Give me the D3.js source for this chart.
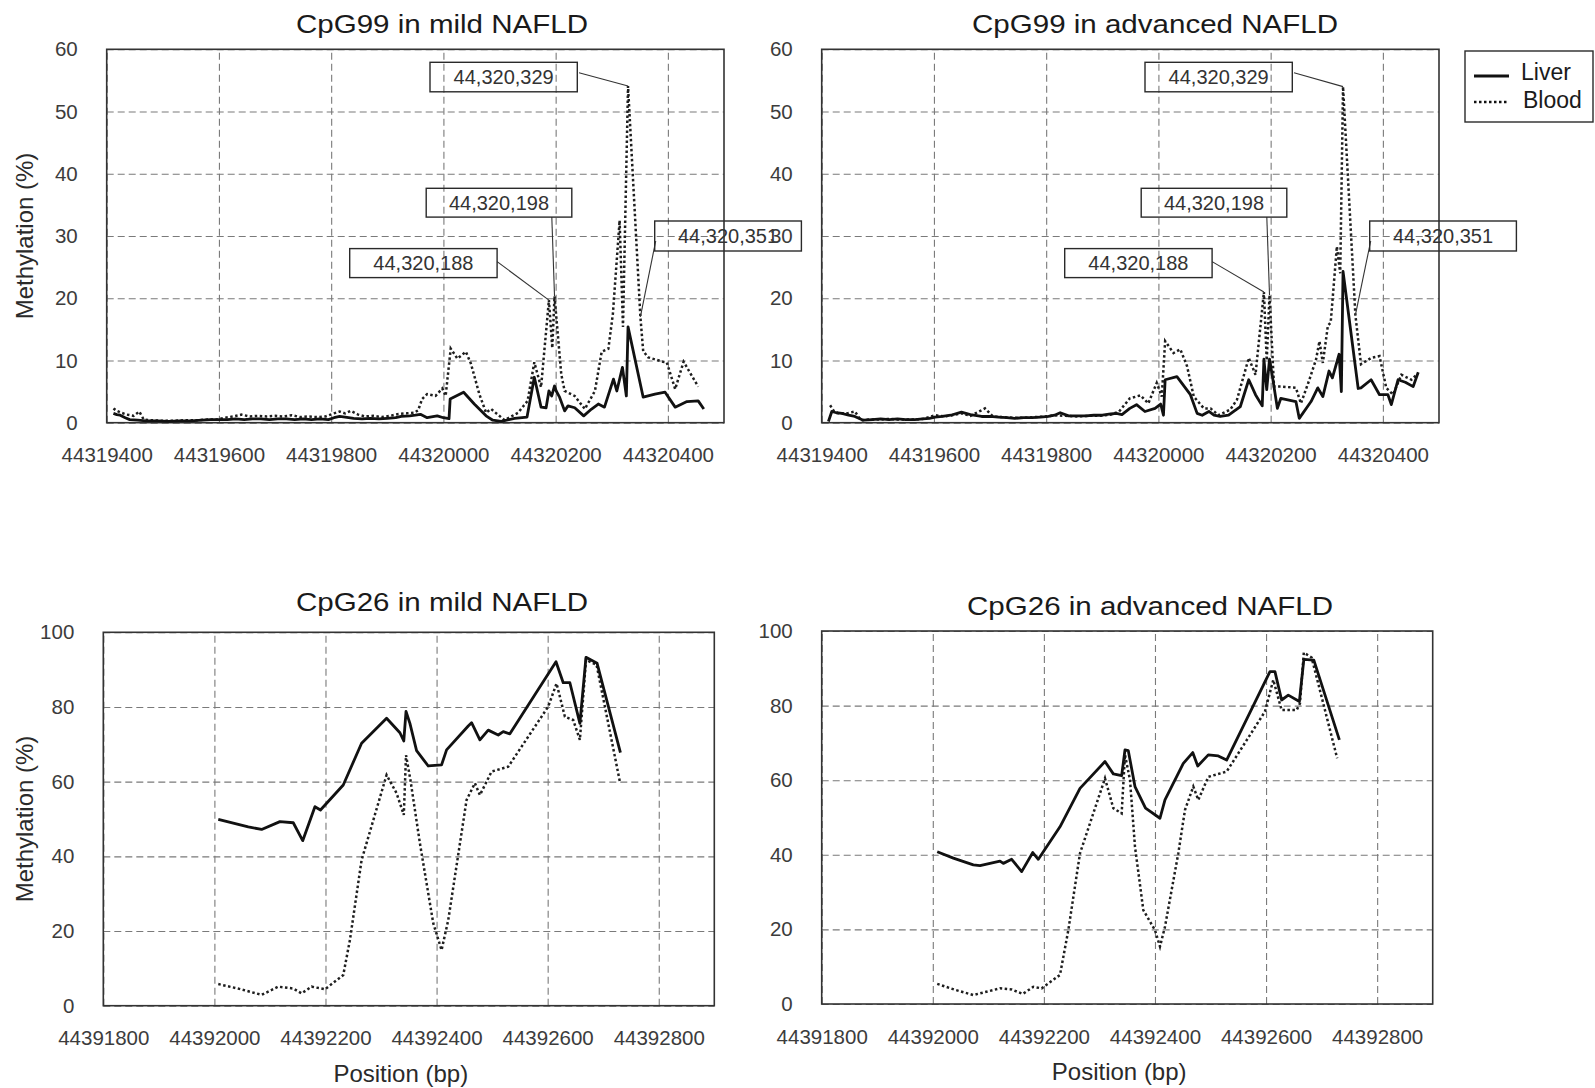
<!DOCTYPE html>
<html>
<head>
<meta charset="utf-8">
<script src="https://cdn.jsdelivr.net/npm/d3@7"></script>
<style>
  html, body { margin: 0; padding: 0; background: #fff; }
  svg { display: block; font-family: "Liberation Sans", Arial, sans-serif; }
</style>
</head>
<body>
<svg id="chart" width="1595" height="1088"></svg>
<script>
// ---------- tick values ----------
const cpg99XTicks = [44319400, 44319600, 44319800, 44320000, 44320200, 44320400];
const cpg99YTicks = [0, 10, 20, 30, 40, 50, 60];
const cpg26XTicks = [44391800, 44392000, 44392200, 44392400, 44392600, 44392800];
const cpg26YTicks = [0, 20, 40, 60, 80, 100];

// highlighted CpG sites in the CpG99 region
const cpg99Sites = [44320329, 44320198, 44320188, 44320351];

// ---------- CpG99, mild NAFLD: [position, methylation %] ----------
const cpg99MildLiver = [
  [44319412,1.5],[44319418,1.3],[44319424,1.2],[44319433,0.8],[44319441,0.5],[44319455,0.4],
  [44319470,0.3],[44319490,0.3],[44319510,0.2],[44319530,0.3],[44319550,0.3],[44319570,0.4],
  [44319585,0.5],[44319600,0.5],[44319615,0.5],[44319630,0.6],[44319645,0.5],[44319660,0.6],
  [44319675,0.6],[44319690,0.5],[44319705,0.6],[44319720,0.6],[44319735,0.5],[44319750,0.6],
  [44319765,0.5],[44319780,0.6],[44319795,0.5],[44319805,0.8],[44319815,1.0],[44319825,0.9],
  [44319840,0.7],[44319855,0.6],[44319870,0.7],[44319885,0.6],[44319900,0.7],[44319915,0.8],
  [44319925,1.0],[44319940,1.1],[44319950,1.2],[44319959,1.35],[44319971,0.8],[44319989,1.1],
  [44320000,0.8],[44320010,0.65],[44320012,3.8],[44320036,4.9],[44320055,3.0],[44320076,1.1],
  [44320088,0.4],[44320103,0.2],[44320127,0.7],[44320149,0.9],[44320162,7.3],[44320174,2.5],
  [44320183,2.4],[44320188,5.1],[44320193,4.3],[44320198,5.9],[44320201,5.1],[44320207,4.1],
  [44320216,1.9],[44320222,2.7],[44320234,2.4],[44320250,1.1],[44320264,2.2],[44320276,3.0],
  [44320287,2.5],[44320303,7.0],[44320309,5.1],[44320319,8.9],[44320326,4.3],[44320329,15.4],
  [44320356,4.1],[44320377,4.6],[44320395,4.9],[44320413,2.5],[44320434,3.4],[44320454,3.5],
  [44320464,2.2]
];
const cpg99MildBlood = [
  [44319412,2.3],[44319418,1.9],[44319426,1.6],[44319436,1.3],[44319448,1.1],[44319458,1.8],
  [44319466,0.5],[44319480,0.4],[44319500,0.3],[44319520,0.3],[44319540,0.4],[44319560,0.4],
  [44319580,0.5],[44319596,0.5],[44319610,0.8],[44319625,1.0],[44319640,1.3],[44319655,1.0],
  [44319670,1.1],[44319685,1.0],[44319700,1.1],[44319715,1.0],[44319730,1.2],[44319745,0.9],
  [44319760,1.0],[44319775,0.9],[44319790,1.0],[44319805,1.5],[44319815,1.8],[44319825,1.5],
  [44319835,1.9],[44319848,1.3],[44319860,1.0],[44319875,1.1],[44319890,0.9],[44319905,1.1],
  [44319920,1.4],[44319935,1.5],[44319948,1.6],[44319955,2.0],[44319962,3.8],[44319971,4.6],
  [44319986,4.3],[44319998,5.5],[44320004,4.3],[44320013,11.9],[44320025,10.3],[44320040,11.4],
  [44320049,9.5],[44320064,4.6],[44320076,1.6],[44320085,2.2],[44320097,1.3],[44320109,0.4],
  [44320133,1.6],[44320150,3.5],[44320162,9.7],[44320174,5.7],[44320188,19.7],[44320194,12.0],
  [44320198,20.3],[44320210,7.8],[44320216,5.1],[44320234,4.3],[44320252,2.2],[44320270,5.1],
  [44320282,11.4],[44320294,11.9],[44320302,17.5],[44320314,32.5],[44320320,15.4],[44320329,54.1],
  [44320351,17.0],[44320356,11.5],[44320365,10.5],[44320391,9.8],[44320398,9.7],[44320413,5.4],
  [44320428,9.8],[44320454,5.8]
];

// ---------- CpG99, advanced NAFLD ----------
const cpg99AdvLiver = [
  [44319412,0.2],[44319418,1.8],[44319426,1.6],[44319436,1.5],[44319448,1.2],[44319459,1.0],
  [44319474,0.4],[44319490,0.5],[44319505,0.6],[44319520,0.5],[44319535,0.6],[44319550,0.5],
  [44319566,0.5],[44319580,0.6],[44319592,0.7],[44319602,0.9],[44319615,1.0],[44319630,1.2],
  [44319649,1.7],[44319665,1.3],[44319685,1.0],[44319700,1.0],[44319715,0.9],[44319730,0.8],
  [44319744,0.7],[44319760,0.8],[44319775,0.8],[44319790,0.9],[44319804,1.0],[44319815,1.2],
  [44319825,1.6],[44319840,1.1],[44319855,1.1],[44319870,1.1],[44319885,1.2],[44319900,1.2],
  [44319915,1.4],[44319925,1.5],[44319935,1.3],[44319949,2.3],[44319961,2.9],[44319976,1.8],
  [44319994,2.3],[44320004,3.0],[44320009,1.2],[44320012,6.9],[44320033,7.4],[44320057,4.5],
  [44320069,1.5],[44320078,1.2],[44320090,1.8],[44320099,1.2],[44320110,1.0],[44320125,1.2],
  [44320146,2.6],[44320161,6.9],[44320173,4.5],[44320185,2.7],[44320188,10.2],[44320193,5.3],
  [44320198,10.2],[44320203,7.5],[44320212,2.3],[44320218,3.9],[44320245,3.4],[44320251,0.7],
  [44320272,3.4],[44320284,5.6],[44320293,4.2],[44320304,8.3],[44320310,7.2],[44320322,11.0],
  [44320326,5.0],[44320329,24.3],[44320356,5.5],[44320361,5.6],[44320379,6.9],[44320394,4.5],
  [44320409,4.5],[44320415,2.9],[44320427,6.9],[44320440,6.5],[44320454,5.8],[44320463,8.1]
];
const cpg99AdvBlood = [
  [44319415,2.8],[44319422,1.8],[44319430,1.5],[44319445,1.5],[44319459,1.8],[44319470,0.4],
  [44319485,0.5],[44319500,0.5],[44319520,0.6],[44319540,0.5],[44319560,0.5],[44319580,0.6],
  [44319602,1.2],[44319620,1.0],[44319649,1.5],[44319665,1.1],[44319685,2.0],[44319691,2.3],
  [44319705,1.0],[44319720,0.9],[44319740,0.8],[44319760,0.8],[44319780,0.9],[44319800,1.0],
  [44319815,1.2],[44319835,1.1],[44319855,1.0],[44319875,1.1],[44319895,1.1],[44319915,1.3],
  [44319930,1.8],[44319949,3.9],[44319968,4.4],[44319982,3.1],[44319997,6.4],[44320006,4.2],
  [44320012,13.1],[44320027,11.2],[44320039,11.8],[44320051,9.1],[44320063,4.2],[44320081,2.3],
  [44320093,2.3],[44320107,1.2],[44320128,2.1],[44320140,3.7],[44320161,10.4],[44320173,7.7],
  [44320188,21.0],[44320193,10.0],[44320198,20.5],[44320206,5.8],[44320221,5.8],[44320245,5.6],
  [44320254,3.1],[44320269,6.9],[44320281,10.2],[44320287,13.1],[44320293,9.6],[44320302,15.6],
  [44320307,16.1],[44320318,28.3],[44320324,24.0],[44320329,54.0],[44320351,17.3],[44320361,9.4],
  [44320379,10.4],[44320394,10.7],[44320406,5.6],[44320418,4.5],[44320433,7.7],[44320451,6.9],
  [44320460,7.7]
];

// ---------- CpG26, mild NAFLD ----------
const cpg26MildLiver = [
  [44392007,49.9],[44392061,47.9],[44392085,47.2],[44392118,49.3],[44392142,49.0],[44392159,44.2],
  [44392181,53.3],[44392191,52.4],[44392232,59.1],[44392265,70.3],[44392310,77.0],[44392334,73.1],
  [44392341,70.9],[44392345,78.8],[44392352,75.6],[44392364,68.3],[44392385,64.2],[44392409,64.5],
  [44392418,68.5],[44392457,74.9],[44392463,75.8],[44392478,71.2],[44392493,73.8],[44392511,72.5],
  [44392520,73.4],[44392532,72.8],[44392615,92.1],[44392628,86.5],[44392640,86.5],[44392658,75.6],
  [44392669,93.3],[44392689,91.7],[44392731,67.8]
];
const cpg26MildBlood = [
  [44392007,5.8],[44392045,4.5],[44392085,2.9],[44392115,5.1],[44392142,4.6],[44392157,3.3],
  [44392175,5.1],[44392199,4.4],[44392232,8.2],[44392244,17.6],[44392265,39.0],[44392310,61.8],
  [44392328,56.9],[44392341,51.1],[44392345,67.1],[44392353,60.4],[44392370,43.5],[44392394,22.1],
  [44392409,14.9],[44392421,22.9],[44392454,55.1],[44392469,59.6],[44392478,56.4],[44392499,62.7],
  [44392529,64.0],[44392601,80.1],[44392616,86.3],[44392631,77.4],[44392646,76.5],[44392658,71.2],
  [44392669,92.6],[44392688,91.3],[44392730,60.0]
];

// ---------- CpG26, advanced NAFLD ----------
const cpg26AdvLiver = [
  [44392008,40.8],[44392037,39.1],[44392073,37.3],[44392085,37.1],[44392121,38.3],[44392127,37.7],
  [44392142,38.8],[44392160,35.5],[44392180,40.6],[44392190,38.8],[44392229,47.5],[44392265,57.8],
  [44392310,65.0],[44392325,61.7],[44392340,61.2],[44392346,68.1],[44392352,67.9],[44392364,58.3],
  [44392383,52.5],[44392409,49.8],[44392418,54.7],[44392451,64.5],[44392468,67.4],[44392477,63.8],
  [44392496,66.8],[44392514,66.5],[44392529,65.4],[44392607,89.1],[44392616,89.1],[44392628,81.5],
  [44392640,82.8],[44392660,81.1],[44392668,92.4],[44392686,92.2],[44392732,70.8]
];
const cpg26AdvBlood = [
  [44392008,5.4],[44392040,3.8],[44392073,2.4],[44392121,4.2],[44392142,3.9],[44392162,2.7],
  [44392181,4.6],[44392196,4.2],[44392229,7.8],[44392244,19.8],[44392265,40.4],[44392310,60.5],
  [44392325,52.5],[44392340,51.1],[44392346,66.8],[44392355,60.1],[44392364,42.2],[44392379,25.2],
  [44392400,19.8],[44392409,15.4],[44392418,20.7],[44392442,40.4],[44392454,52.0],[44392469,58.3],
  [44392478,54.7],[44392496,60.9],[44392529,62.3],[44392598,78.4],[44392613,86.9],[44392628,78.8],
  [44392655,78.8],[44392661,80.6],[44392668,94.2],[44392682,92.9],[44392728,65.9]
];

// ---------- layout ----------
const svg = d3.select("#chart");
const FONT_TICK = 20.5;

const panels = [
  { title: "CpG99 in mild NAFLD", titleX: 296, titleY: 33, titleW: 292,
    left: 106.7, top: 49.3, width: 617.3, height: 373.4,
    xDomain: [44319400, 44320500], xTicks: cpg99XTicks, yMax: 60, yTicks: cpg99YTicks,
    liver: cpg99MildLiver, blood: cpg99MildBlood, yTitle: true, xTitle: false, callouts: true },
  { title: "CpG99 in advanced NAFLD", titleX: 972, titleY: 33, titleW: 366,
    left: 821.7, top: 49.3, width: 617.3, height: 373.4,
    xDomain: [44319400, 44320500], xTicks: cpg99XTicks, yMax: 60, yTicks: cpg99YTicks,
    liver: cpg99AdvLiver, blood: cpg99AdvBlood, yTitle: false, xTitle: false, callouts: true },
  { title: "CpG26 in mild NAFLD", titleX: 296, titleY: 610.5, titleW: 292,
    left: 103.3, top: 632.3, width: 611, height: 373.4,
    xDomain: [44391800, 44392900], xTicks: cpg26XTicks, yMax: 100, yTicks: cpg26YTicks,
    liver: cpg26MildLiver, blood: cpg26MildBlood, yTitle: true, xTitle: true, callouts: false },
  { title: "CpG26 in advanced NAFLD", titleX: 967, titleY: 615, titleW: 366,
    left: 821.7, top: 631, width: 611, height: 373,
    xDomain: [44391800, 44392900], xTicks: cpg26XTicks, yMax: 100, yTicks: cpg26YTicks,
    liver: cpg26AdvLiver, blood: cpg26AdvBlood, yTitle: false, xTitle: true, callouts: false }
];

// callout boxes, placed relative to the plot area; the leader runs
// from the anchor point on the box to the blood value at that site
const calloutLayout = {
  44320329: { box: [323.3, 13, 147.3, 29.5], anchor: [149, 10.5] },
  44320198: { box: [319.5, 139, 145.6, 28.8], anchor: [125.6, 28.8] },
  44320188: { box: [243, 199.3, 147.4, 29], anchor: [147.4, 13] },
  44320351: { box: [548, 171.7, 146.7, 30], anchor: [1, 20] }
};

function styleAxis(sel) {
  sel.select(".domain").remove();
  sel.selectAll(".tick line")
    .attr("stroke", "#7a7a7a")
    .attr("stroke-width", 1.1)
    .attr("stroke-dasharray", "7,4");
  sel.selectAll(".tick text")
    .attr("fill", "#3c3c3c")
    .style("font-size", FONT_TICK + "px")
    .style("font-family", "'Liberation Sans', Arial, sans-serif");
}

panels.forEach(p => {
  const g = svg.append("g").attr("transform", `translate(${p.left},${p.top})`);
  const x = d3.scaleLinear().domain(p.xDomain).range([0, p.width]);
  const y = d3.scaleLinear().domain([0, p.yMax]).range([p.height, 0]);

  // grid + tick labels
  g.append("g")
    .attr("transform", `translate(0,${p.height})`)
    .call(d3.axisBottom(x).tickValues(p.xTicks).tickSize(-p.height)
      .tickPadding(25).tickFormat(d3.format("d")))
    .call(styleAxis);
  g.append("g")
    .call(d3.axisLeft(y).tickValues(p.yTicks).tickSize(-p.width)
      .tickPadding(29).tickFormat(d3.format("d")))
    .call(styleAxis);

  // plot frame
  g.append("rect")
    .attr("width", p.width).attr("height", p.height)
    .attr("fill", "none").attr("stroke", "#333").attr("stroke-width", 1.6);

  const line = d3.line().x(d => x(d[0])).y(d => y(d[1]));

  g.append("path").datum(p.blood)
    .attr("d", line)
    .attr("fill", "none").attr("stroke", "#1e1e1e")
    .attr("stroke-width", 2.5).attr("stroke-dasharray", "2.5,2.5");

  g.append("path").datum(p.liver)
    .attr("d", line)
    .attr("fill", "none").attr("stroke", "#111")
    .attr("stroke-width", 2.8).attr("stroke-linejoin", "round");

  // titles
  svg.append("text")
    .attr("x", p.titleX).attr("y", p.titleY)
    .attr("textLength", p.titleW).attr("lengthAdjust", "spacingAndGlyphs")
    .attr("fill", "#1a1a1a").style("font-size", "26px")
    .text(p.title);

  if (p.yTitle) {
    svg.append("text")
      .attr("transform", `translate(33,${p.top + p.height / 2}) rotate(-90)`)
      .attr("text-anchor", "middle")
      .attr("fill", "#2a2a2a").style("font-size", "24px")
      .text("Methylation (%)");
  }
  if (p.xTitle) {
    svg.append("text")
      .attr("x", p.left + p.width / 2 - 8).attr("y", p.top + p.height + 76)
      .attr("text-anchor", "middle")
      .attr("fill", "#2a2a2a").style("font-size", "24px")
      .text("Position (bp)");
  }

  if (p.callouts) {
    const fmt = d3.format(",");
    cpg99Sites.forEach(site => {
      const c = calloutLayout[site];
      const pt = p.blood.find(d => d[0] === site);
      const [bx, by, bw, bh] = c.box;
      g.append("line")
        .attr("x1", bx + c.anchor[0]).attr("y1", by + c.anchor[1])
        .attr("x2", x(pt[0])).attr("y2", y(pt[1]))
        .attr("stroke", "#333").attr("stroke-width", 1.1);
      g.append("rect")
        .attr("x", bx).attr("y", by).attr("width", bw).attr("height", bh)
        .attr("fill", "none").attr("stroke", "#2a2a2a").attr("stroke-width", 1.4);
      g.append("text")
        .attr("x", bx + bw / 2).attr("y", by + bh / 2 + 7)
        .attr("text-anchor", "middle")
        .attr("fill", "#333").style("font-size", "20px")
        .text(fmt(site));
    });
  }
});

// legend
const legend = svg.append("g");
legend.append("rect")
  .attr("x", 1465).attr("y", 51).attr("width", 128).attr("height", 71)
  .attr("fill", "#fff").attr("stroke", "#2a2a2a").attr("stroke-width", 1.4);
const legendItems = [
  { label: "Liver", dash: null, width: 2.8, y: 76, ty: 80, tx: 1521 },
  { label: "Blood", dash: "2.5,2.5", width: 2.5, y: 102, ty: 108, tx: 1523 }
];
legendItems.forEach(it => {
  const l = legend.append("line")
    .attr("x1", 1474).attr("x2", 1509).attr("y1", it.y).attr("y2", it.y)
    .attr("stroke", "#111").attr("stroke-width", it.width);
  if (it.dash) l.attr("stroke-dasharray", it.dash);
  legend.append("text")
    .attr("x", it.tx).attr("y", it.ty)
    .attr("fill", "#1a1a1a").style("font-size", "23px")
    .text(it.label);
});
</script>
</body>
</html>
